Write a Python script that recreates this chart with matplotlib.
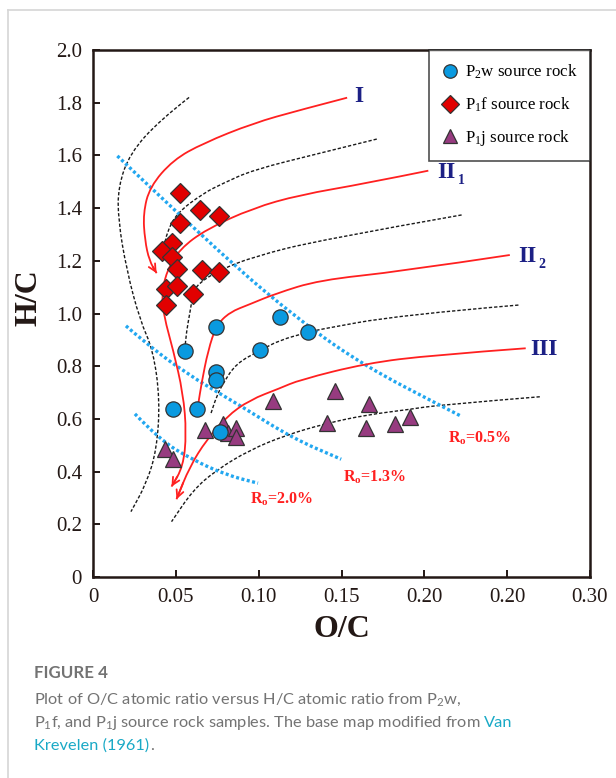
import matplotlib
matplotlib.use('Agg')
import matplotlib.pyplot as plt
from matplotlib.path import Path
from matplotlib.patches import PathPatch
from matplotlib.lines import Line2D

# sample points (O/C, H/C)
p2w_oc = [0.0745, 0.0554, 0.0745, 0.0745, 0.048, 0.063, 0.0765, 0.101, 0.1127, 0.130]
p2w_hc = [0.948, 0.859, 0.779, 0.746, 0.638, 0.638, 0.551, 0.860, 0.986, 0.929]

p1f_oc = [0.0528, 0.0645, 0.0759, 0.0528, 0.0478, 0.0414, 0.0478, 0.051, 0.0655, 0.0759,
          0.0438, 0.051, 0.0604, 0.0438]
p1f_hc = [1.458, 1.393, 1.371, 1.342, 1.269, 1.238, 1.216, 1.169, 1.165, 1.156,
          1.093, 1.106, 1.074, 1.032]

p1j_oc = [0.0434, 0.0484, 0.0675, 0.0785, 0.0815, 0.0861, 0.0861, 0.1084, 0.1458, 0.1665,
          0.1414, 0.1649, 0.1823, 0.1913]
p1j_hc = [0.485, 0.447, 0.556, 0.580, 0.548, 0.566, 0.530, 0.669, 0.706, 0.657,
          0.586, 0.564, 0.581, 0.608]

# van Krevelen base map, evolution paths (red)
type1_oc = [0.1534, 0.1247, 0.0966, 0.0665, 0.0484, 0.0343, 0.0303, 0.0313, 0.0340, 0.0384]
type1_hc = [1.819, 1.772, 1.722, 1.646, 1.583, 1.481, 1.380, 1.279, 1.200, 1.153]
type2a_oc = [0.2024, 0.1649, 0.1247, 0.0966, 0.0685, 0.0524, 0.0444, 0.0414, 0.0428,
             0.0484, 0.0544, 0.0564, 0.0544, 0.0474]
type2a_hc = [1.542, 1.494, 1.450, 1.400, 1.320, 1.245, 1.160, 1.070, 0.990,
             0.861, 0.697, 0.545, 0.419, 0.343]
type2b_oc = [0.2516, 0.1849, 0.1367, 0.110, 0.0946, 0.0825, 0.0745, 0.0695, 0.0655, 0.0635]
type2b_hc = [1.222, 1.159, 1.127, 1.075, 1.035, 1.005, 0.955, 0.861, 0.735, 0.655]
type3_oc = [0.2612, 0.205, 0.1649, 0.1247, 0.1127, 0.0946, 0.0805, 0.0685, 0.0584, 0.0504]
type3_hc = [0.868, 0.842, 0.811, 0.748, 0.716, 0.672, 0.608, 0.520, 0.419, 0.295]

# black dashed guide curves
d1_oc = [0.058, 0.0404, 0.0223, 0.0152, 0.0152, 0.0203, 0.0283, 0.0363, 0.0404, 0.0384, 0.0323, 0.0229]
d1_hc = [1.82, 1.734, 1.608, 1.481, 1.355, 1.165, 0.975, 0.861, 0.672, 0.482, 0.356, 0.248]
d2_oc = [0.1713, 0.1367, 0.0966, 0.0785, 0.0665, 0.0504, 0.0444, 0.043]
d2_hc = [1.662, 1.608, 1.545, 1.494, 1.456, 1.380, 1.304, 1.25]
d3_oc = [0.2225, 0.1367, 0.0966, 0.0765, 0.0635, 0.0604, 0.0584, 0.0564, 0.0554]
d3_hc = [1.374, 1.279, 1.215, 1.165, 1.114, 1.076, 1.0, 0.93, 0.86]
d4_oc = [0.2568, 0.1849, 0.1347, 0.130, 0.1127, 0.101, 0.0865, 0.0785, 0.0745, 0.0709]
d4_hc = [1.032, 0.994, 0.937, 0.929, 0.899, 0.860, 0.811, 0.735, 0.684, 0.615]
d5_oc = [0.2697, 0.209, 0.191, 0.1649, 0.1408, 0.1167, 0.0946, 0.0745, 0.0604, 0.0474]
d5_hc = [0.684, 0.653, 0.636, 0.615, 0.583, 0.539, 0.482, 0.406, 0.330, 0.210]

# vitrinite reflectance isolines (blue dotted)
ro05_oc = [0.0147, 0.0765, 0.1267, 0.1649, 0.209, 0.222]
ro05_hc = [1.598, 1.228, 0.963, 0.798, 0.653, 0.611]
ro13_oc = [0.0199, 0.0283, 0.0544, 0.089, 0.1207, 0.1498]
ro13_hc = [0.953, 0.906, 0.779, 0.650, 0.526, 0.447]
ro20_oc = [0.0253, 0.0404, 0.0604, 0.0805, 0.0996]
ro20_hc = [0.619, 0.520, 0.444, 0.387, 0.356]

xticks = [0, 0.05, 0.10, 0.15, 0.20, 0.25, 0.30]
xtick_labels = ['0', '0.05', '0.10', '0.15', '0.20', '0.20', '0.30']
yticks = [0, 0.2, 0.4, 0.6, 0.8, 1.0, 1.2, 1.4, 1.6, 1.8, 2.0]
ytick_labels = ['0', '0.2', '0.4', '0.6', '0.8', '1.0', '1.2', '1.4', '1.6', '1.8', '2.0']

plt.rcParams['font.family'] = 'Liberation Serif'
plt.rcParams['mathtext.default'] = 'regular'

RED = '#ff2020'
BLUE = '#22a7f0'
NAVY = '#1c2085'
INK = '#231815'


def smooth(ax, xs, ys, arrow=False, **kw):
    pts = list(zip(xs, ys))
    verts = [pts[0]]
    codes = [Path.MOVETO]
    for i in range(1, len(pts) - 1):
        mid = ((pts[i][0] + pts[i + 1][0]) / 2, (pts[i][1] + pts[i + 1][1]) / 2)
        verts += [pts[i], mid]
        codes += [Path.CURVE3, Path.CURVE3]
    verts.append(pts[-1])
    codes.append(Path.LINETO)
    ax.add_patch(PathPatch(Path(verts, codes), fill=False, capstyle='butt', **kw))
    if arrow:
        mid = ((pts[-2][0] + pts[-1][0]) / 2, (pts[-2][1] + pts[-1][1]) / 2)
        ax.annotate('', xy=pts[-1], xytext=mid,
                    arrowprops=dict(arrowstyle='->', color=kw.get('edgecolor', RED),
                                    lw=1.3, mutation_scale=13, shrinkA=0, shrinkB=0))


fig = plt.figure(figsize=(6.16, 7.78), dpi=100)
ax = fig.add_axes([93 / 616, 201 / 778, 497 / 616, 527 / 778])

dash = dict(edgecolor='#1a1a1a', lw=1.0, linestyle=(0, (2.4, 1.4)))
for xs, ys in [(d1_oc, d1_hc), (d2_oc, d2_hc), (d3_oc, d3_hc), (d4_oc, d4_hc), (d5_oc, d5_hc)]:
    smooth(ax, xs, ys, **dash)

dot = dict(edgecolor=BLUE, lw=2.4, linestyle=(0, (0.9, 0.75)))
for xs, ys in [(ro05_oc, ro05_hc), (ro13_oc, ro13_hc), (ro20_oc, ro20_hc)]:
    smooth(ax, xs, ys, **dot)

smooth(ax, type1_oc, type1_hc, arrow=True, edgecolor=RED, lw=1.3)
smooth(ax, type2a_oc, type2a_hc, arrow=True, edgecolor=RED, lw=1.3)
smooth(ax, type2b_oc, type2b_hc, edgecolor=RED, lw=1.3)
smooth(ax, type3_oc, type3_hc, arrow=True, edgecolor=RED, lw=1.3)

ax.plot(p1j_oc, p1j_hc, '^', ms=12, mfc='#973b80', mec='#333333', mew=0.9, ls='none',
        label='P$_{1}$j source rock', zorder=5)
ax.plot(p1f_oc, p1f_hc, 'D', ms=10, mfc='#e10000', mec='#333333', mew=0.9, ls='none',
        label='P$_{1}$f source rock', zorder=6)
ax.plot(p2w_oc, p2w_hc, 'o', ms=11, mfc='#0a9ae0', mec='#333333', mew=0.9, ls='none',
        label='P$_{2}$w source rock', zorder=7)

# type labels
ax.text(0.1602, 1.822, 'I', color=NAVY, fontsize=17, fontweight='bold', ha='center', va='center')
ax.text(0.2075, 1.537, 'II', color=NAVY, fontsize=17, fontweight='bold', ha='left', va='center')
ax.text(0.2200, 1.505, '1', color=NAVY, fontsize=10, fontweight='bold', ha='left', va='center')
ax.text(0.2565, 1.218, 'II', color=NAVY, fontsize=17, fontweight='bold', ha='left', va='center')
ax.text(0.2690, 1.186, '2', color=NAVY, fontsize=10, fontweight='bold', ha='left', va='center')
ax.text(0.2723, 0.865, 'III', color=NAVY, fontsize=17, fontweight='bold', ha='center', va='center')

ro_kw = dict(color=RED, fontsize=11.5, fontweight='bold', ha='center', va='center')
ax.text(0.2331, 0.5275, 'R$_{o}$=0.5%', **ro_kw)
ax.text(0.1699, 0.3795, 'R$_{o}$=1.3%', **ro_kw)
ax.text(0.1136, 0.295, 'R$_{o}$=2.0%', **ro_kw)

ax.set_xlim(0, 0.30)
ax.set_ylim(0, 2.0)
ax.set_xticks(xticks)
ax.set_xticklabels(xtick_labels)
ax.set_yticks(yticks)
ax.set_yticklabels(ytick_labels)
ax.tick_params(direction='in', length=5, width=1.4, color=INK, labelsize=15,
               labelcolor=INK, pad=8)
for s in ax.spines.values():
    s.set_color(INK)
    s.set_linewidth(1.8)

ax.set_xlabel('O/C', fontsize=23, fontweight='bold', color=INK, labelpad=6)
ax.set_ylabel('H/C', fontsize=23, fontweight='bold', color=INK)
ax.yaxis.set_label_coords(-0.10, 0.53)

handles, labels = ax.get_legend_handles_labels()
leg = ax.legend(handles[::-1], labels[::-1], loc='upper right', bbox_to_anchor=(1, 1),
                borderaxespad=0, fancybox=False, edgecolor='#222222', fontsize=12.2,
                handlelength=1.0, handletextpad=0.35, labelspacing=0.85, borderpad=0.75,
                markerscale=0.88)
leg.get_frame().set_linewidth(1.2)
leg.set_zorder(10)

# light page frame
fig.add_artist(Line2D([8 / 616, 8 / 616], [0, 1 - 10 / 778], color='#d6d6d6', lw=1.2))
fig.add_artist(Line2D([8 / 616, 1], [1 - 10 / 778, 1 - 10 / 778], color='#d6d6d6', lw=1.2))

# caption
GRAY = '#737373'
TEAL = '#19a9c6'
cx = 34 / 616
fig.text(cx, 1 - 673 / 778, 'FIGURE 4', family='Lato', fontweight='bold', fontsize=12.2,
         color=GRAY, va='center')
cap = dict(family='Lato', fontsize=11.8, va='center')
fig.text(cx, 1 - 700 / 778, 'Plot of O/C atomic ratio versus H/C atomic ratio from P$_{2}$w,',
         color=GRAY, **cap)
t2 = fig.text(cx, 1 - 723 / 778,
              'P$_{1}$f, and P$_{1}$j source rock samples. The base map modified from',
              color=GRAY, **cap)
t3 = fig.text(cx, 1 - 746 / 778, 'Krevelen (1961)', color=TEAL, **cap)

fig.canvas.draw()
r = fig.canvas.get_renderer()
e2 = t2.get_window_extent(r)
fig.text((e2.x1 + 4) / 616, 1 - 723 / 778, 'Van', color=TEAL, **cap)
e3 = t3.get_window_extent(r)
fig.text((e3.x1 + 0.5) / 616, 1 - 746 / 778, '.', color=GRAY, **cap)

fig.savefig('out.png', dpi=100)
